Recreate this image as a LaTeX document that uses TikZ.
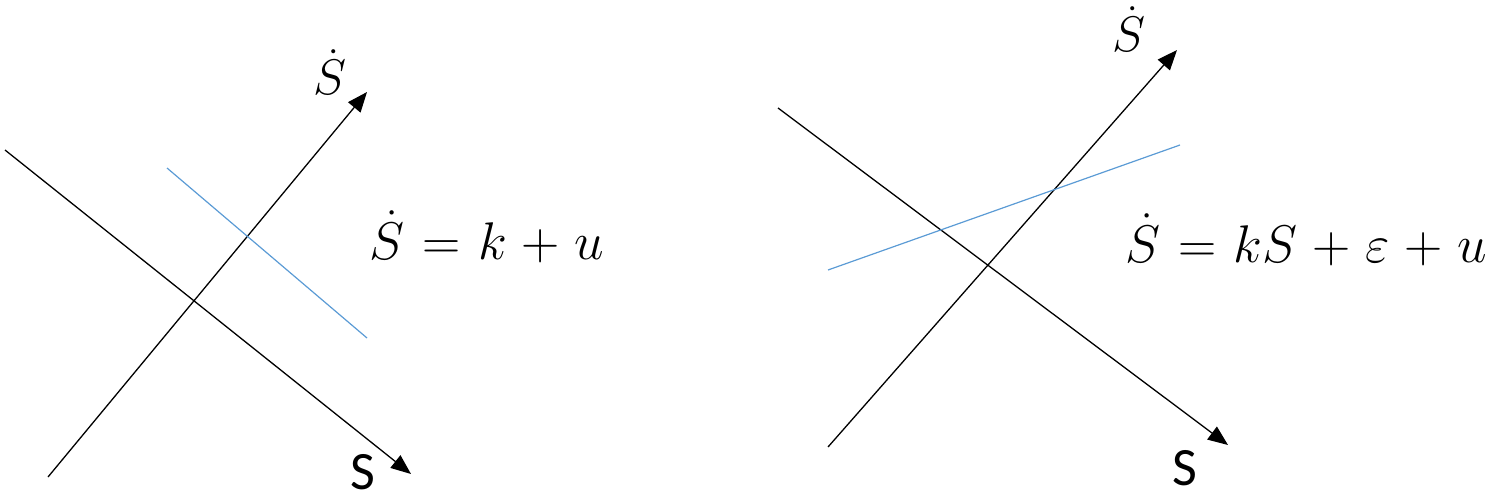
\RequirePackage{fix-cm}
\documentclass[tikz,border=0pt]{standalone}
\usepackage{fontspec}
\newfontfamily\labfont{Carlito}
\usetikzlibrary{arrows.meta}
\definecolor{lineblue}{RGB}{91,155,213}
\newcommand\eqspacing{\thickmuskip=6mu\relax\medmuskip=5mu\relax}
\begin{document}
\begin{tikzpicture}[x=1pt,y=-1pt,
  axis/.style={line width=1.3pt,-{Triangle[length=20pt,width=16pt]}},
  blueline/.style={line width=1.2pt,draw=lineblue},
  eq/.style={inner sep=0pt,anchor=base,font=\fontsize{53}{64}\selectfont},
  lab/.style={inner sep=0pt,anchor=base,font=\fontsize{50}{60}\selectfont},
  slab/.style={inner sep=0pt,anchor=base,font=\fontsize{54}{64}\selectfont\labfont}]
\useasboundingbox (0,0) rectangle (1499,495);
% left panel
\coordinate (la1) at (48,477);
\coordinate (la2) at (367,92);
\coordinate (lb1) at (5,150);
\coordinate (lb2) at (411,474);
\coordinate (lc1) at (167,168);
\coordinate (lc2) at (367,338);
\draw[axis] (la1) -- (la2);
\draw[axis] (lb1) -- (lb2);
\draw[blueline] (lc1) -- (lc2);
\node[lab] (lsdot) at (330,95) {$\dot{S}$};
\node[slab] (ls) at (363,489) {S};
\node[eq] (leq) at (487,259) {$\eqspacing\dot{S} = k + u$};
% right panel
\coordinate (ra1) at (828,447);
\coordinate (ra2) at (1177,50);
\coordinate (rb1) at (778,108);
\coordinate (rb2) at (1228,445);
\coordinate (rc1) at (828,270);
\coordinate (rc2) at (1180,145);
\draw[axis] (ra1) -- (ra2);
\draw[axis] (rb1) -- (rb2);
\draw[blueline] (rc1) -- (rc2);
\node[lab] (rsdot) at (1129,52) {$\dot{S}$};
\node[slab] (rs) at (1185,485) {S};
\node[eq] (req) at (1306,262) {$\eqspacing\dot{S} = kS + \varepsilon + u$};
\end{tikzpicture}
\end{document}
